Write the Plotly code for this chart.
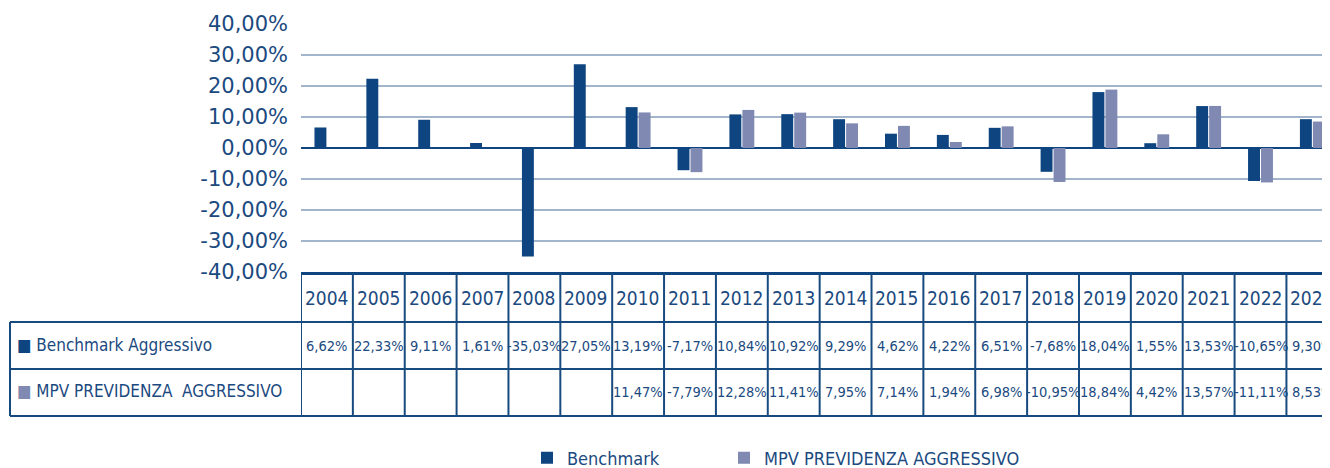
import plotly.graph_objects as go

# ---------------- data ----------------
years = [str(y) for y in range(2004, 2024)]
benchmark = [6.62, 22.33, 9.11, 1.61, -35.03, 27.05, 13.19, -7.17, 10.84, 10.92,
             9.29, 4.62, 4.22, 6.51, -7.68, 18.04, 1.55, 13.53, -10.65, 9.30]
mpv = [None, None, None, None, None, None, 11.47, -7.79, 12.28, 11.41,
       7.95, 7.14, 1.94, 6.98, -10.95, 18.84, 4.42, 13.57, -11.11, 8.53]
row_labels = ["Benchmark Aggressivo", "MPV PREVIDENZA\u00a0 AGGRESSIVO"]
legend_names = ["Benchmark", "MPV PREVIDENZA AGGRESSIVO"]
y_ticks = [40, 30, 20, 10, 0, -10, -20, -30, -40]
y_ticktext = ["40,00%", "30,00%", "20,00%", "10,00%", "0,00%",
              "-10,00%", "-20,00%", "-30,00%", "-40,00%"]

# ---------------- style ----------------
OFF = 8                      # page body margin offset
SW, SH = 1330, 468           # window size
W, H = SW - OFF, SH - OFF    # figure size
S_LEFT, S_TOP, S_BOT = 301, 24, 272   # plot area edges in window pixels
L, T, B_PIX = S_LEFT - OFF, S_TOP - OFF, S_BOT - OFF
NAVY = "#0E4580"
LAV = "#7F89B2"
TXT = "#1B4A80"
GRID = "#A2B5CB"
LINE = "#174A7E"
NARROW = "DejaVu Sans Condensed, Liberation Sans Narrow, sans-serif"


def py(spix):
    return (B_PIX - (spix - OFF)) / (B_PIX - T)


def px(spix):
    return (spix - OFF - L) / (W - L)


def fmt(v):
    return "" if v is None else f"{v:.2f}".replace(".", ",") + "%"


fig = go.Figure()
fig.add_trace(go.Bar(x=years, y=benchmark, name=legend_names[0], marker_color=NAVY,
                     marker_line_width=0, legend="legend"))
fig.add_trace(go.Bar(x=years, y=mpv, name=legend_names[1], marker_color=LAV,
                     marker_line_width=0, legend="legend2"))

shapes = []
annotations = []
n = len(years)

# table vertical lines (column boundaries)
for i in range(n + 1):
    shapes.append(dict(type="line", xref="x", yref="paper", x0=i - 0.5, x1=i - 0.5,
                       y0=py(273), y1=py(416), line=dict(color=LINE, width=2)))
# left label column border
shapes.append(dict(type="line", xref="paper", yref="paper", x0=px(10), x1=px(10),
                   y0=py(322), y1=py(416), line=dict(color=LINE, width=2)))
# horizontal lines
for yy in (322, 369, 416):
    shapes.append(dict(type="line", xref="paper", yref="paper", x0=px(10), x1=1,
                       y0=py(yy), y1=py(yy), line=dict(color=LINE, width=2)))

# header years and values
for i, yr in enumerate(years):
    annotations.append(dict(x=i, y=py(298), xref="x", yref="paper", text=yr,
                            xanchor="center", yanchor="middle",
                            showarrow=False, font=dict(family=NARROW, size=19, color=TXT)))
    annotations.append(dict(x=i, y=py(346), xref="x", yref="paper", text=fmt(benchmark[i]),
                            xanchor="center", yanchor="middle",
                            showarrow=False, font=dict(family=NARROW, size=14.5, color=TXT)))
    annotations.append(dict(x=i, y=py(392), xref="x", yref="paper", text=fmt(mpv[i]),
                            xanchor="center", yanchor="middle",
                            showarrow=False, font=dict(family=NARROW, size=14.5, color=TXT)))

# row labels with colored squares
for lab, col, yy in ((row_labels[0], NAVY, 345), (row_labels[1], LAV, 391)):
    annotations.append(dict(x=px(15), y=py(yy), xref="paper", yref="paper",
                            xanchor="left", yanchor="middle", showarrow=False,
                            text=f"<span style='color:{col}'>■</span> {lab}",
                            font=dict(family=NARROW, size=17, color=TXT)))

leg_common = dict(orientation="h", xanchor="left", yanchor="middle", y=py(458),
                  font=dict(family=NARROW, size=18, color=TXT), bgcolor="rgba(0,0,0,0)",
                  borderwidth=0)

fig.update_layout(
    width=W, height=H,
    margin=dict(l=L, r=0, t=T, b=H - B_PIX, pad=0, autoexpand=False),
    paper_bgcolor="white", plot_bgcolor="white",
    barmode="group", bargap=0.5, bargroupgap=0.08,
    shapes=shapes, annotations=annotations,
    showlegend=True,
    legend=dict(x=px(527), **leg_common),
    legend2=dict(x=px(724), **leg_common),
    xaxis=dict(type="category", range=[-0.5, 19.34], showticklabels=False, showgrid=False,
               showline=True, linecolor=NAVY, linewidth=3, ticks="", zeroline=False),
    yaxis=dict(range=[-40, 40], tickvals=y_ticks, ticktext=y_ticktext,
               showgrid=True, gridcolor=GRID, gridwidth=2,
               zeroline=True, zerolinecolor=NAVY, zerolinewidth=2,
               tickfont=dict(family="DejaVu Sans", size=21, color=TXT),
               ticks="", ticklabelstandoff=12, showline=False),
)

fig.write_html("out.html")
